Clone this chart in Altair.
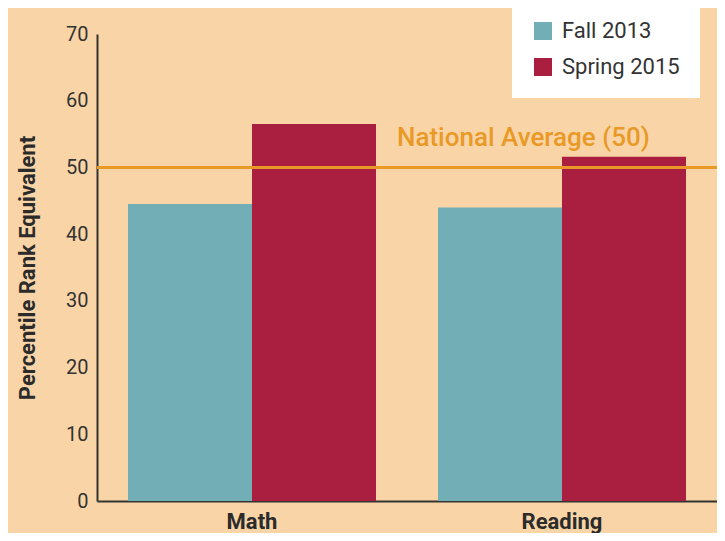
import altair as alt
import pandas as pd

subjects = ["Math", "Reading"]
terms = ["Fall 2013", "Spring 2015"]
fall_2013 = [44.5, 44.0]
spring_2015 = [56.5, 51.6]
national_average = [50]
national_label = ["National Average (50)"]
y_ticks = [0, 10, 20, 30, 40, 50, 60, 70]

rows = []
for i, s in enumerate(subjects):
    rows.append({"subject": s, "term": terms[0], "value": fall_2013[i]})
    rows.append({"subject": s, "term": terms[1], "value": spring_2015[i]})
df = pd.DataFrame(rows)
ref = pd.DataFrame({"y": national_average, "label": national_label})

FONT = "Roboto"
BG = "#F9D4A6"
TEAL = "#72AEB6"
CRIMSON = "#AA1E40"
ORANGE = "#E99A26"
INK = "#333333"

bars = alt.Chart(df).mark_bar().encode(
    x=alt.X(
        "subject:N",
        sort=subjects,
        title=None,
        scale=alt.Scale(paddingInner=0.2, paddingOuter=0.1),
        axis=alt.Axis(
            labelAngle=0, labelFontSize=22, labelFontWeight="bold",
            labelColor="#2b2b2b", labelPadding=10, labelFont=FONT,
            ticks=False, domainColor=INK, domainWidth=2,
        ),
    ),
    xOffset=alt.XOffset("term:N", sort=terms),
    y=alt.Y(
        "value:Q",
        title="Percentile Rank Equivalent",
        scale=alt.Scale(domain=[0, 70], nice=False),
        axis=alt.Axis(
            values=y_ticks, grid=False, ticks=False, labelPadding=9,
            labelFontSize=20, labelColor=INK, labelFont=FONT,
            domainColor=INK, domainWidth=2,
            titleFont=FONT, titleFontSize=22, titleFontWeight="bold",
            titleColor="#2b2b2b", titlePadding=26,
        ),
    ),
    color=alt.Color(
        "term:N",
        sort=terms,
        scale=alt.Scale(domain=terms, range=[TEAL, CRIMSON]),
        legend=alt.Legend(
            orient="none", legendX=415, legendY=-34, fillColor="white",
            padding=20, title=None, symbolType="square", symbolSize=324,
            symbolStrokeWidth=0, labelFontSize=22, labelFont=FONT,
            labelColor=INK, rowPadding=14, labelOffset=8,
        ),
    ),
)

rule = alt.Chart(ref).mark_rule(color=ORANGE, strokeWidth=3).encode(y="y:Q")

text = alt.Chart(ref).mark_text(
    align="left", baseline="alphabetic", dy=-21, fontSize=26,
    color=ORANGE, font=FONT, fontWeight=500,
).encode(x=alt.value(300), y="y:Q", text="label:N")

chart = alt.layer(bars, rule, text).properties(
    width=620, height=467,
    background=BG,
    autosize=alt.AutoSizeParams(type="none"),
    padding={"left": 89, "top": 26, "right": 0, "bottom": 32},
).configure_view(stroke=None)

chart.save("out.html", embed_options={"renderer": "svg", "actions": False})
